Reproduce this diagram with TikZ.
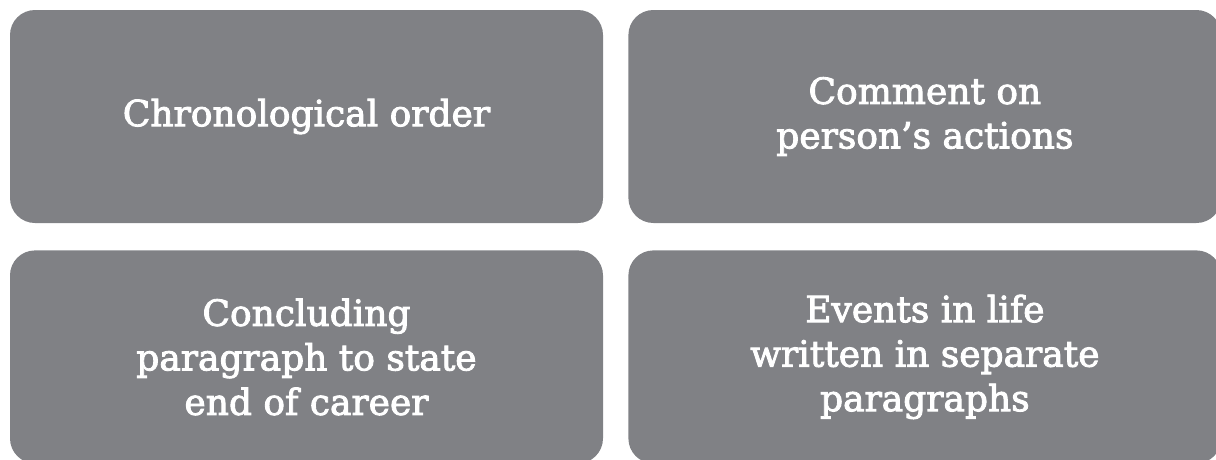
\documentclass[tikz,border=0pt]{standalone}
\usepackage{fontspec}
\setmainfont{DejaVu Serif}
\newfontfamily\boxfont[Ligatures=TeX, FakeBold=2.5]{DejaVu Serif}
\usetikzlibrary{positioning}
\definecolor{boxgray}{RGB}{128, 129, 133}

\begin{document}
\begin{tikzpicture}[x=1pt, y=1pt,
    feature/.style={draw=none, fill=boxgray, rounded corners=25pt,
        minimum width=593pt, minimum height=213pt, inner sep=0pt,
        text=white, align=center,
        font=\boxfont\fontsize{36}{44.5}\selectfont}]
    \useasboundingbox (0, 0) rectangle (1216, -459);
    \clip (0, 0) rectangle (1216, -459);

    % Top row
    \node[feature] (chrono) at (306.5, -116.5) {Chronological order};
    \node[feature, right=25pt of chrono] (comment) {Comment on\\person's actions};

    % Bottom row
    \node[feature, below=27pt of chrono] (conclude) {Concluding\\paragraph to state\\end of career};
    \node[feature, right=25pt of conclude] (events) {Events in life\\written in separate\\paragraphs};
\end{tikzpicture}
\end{document}
